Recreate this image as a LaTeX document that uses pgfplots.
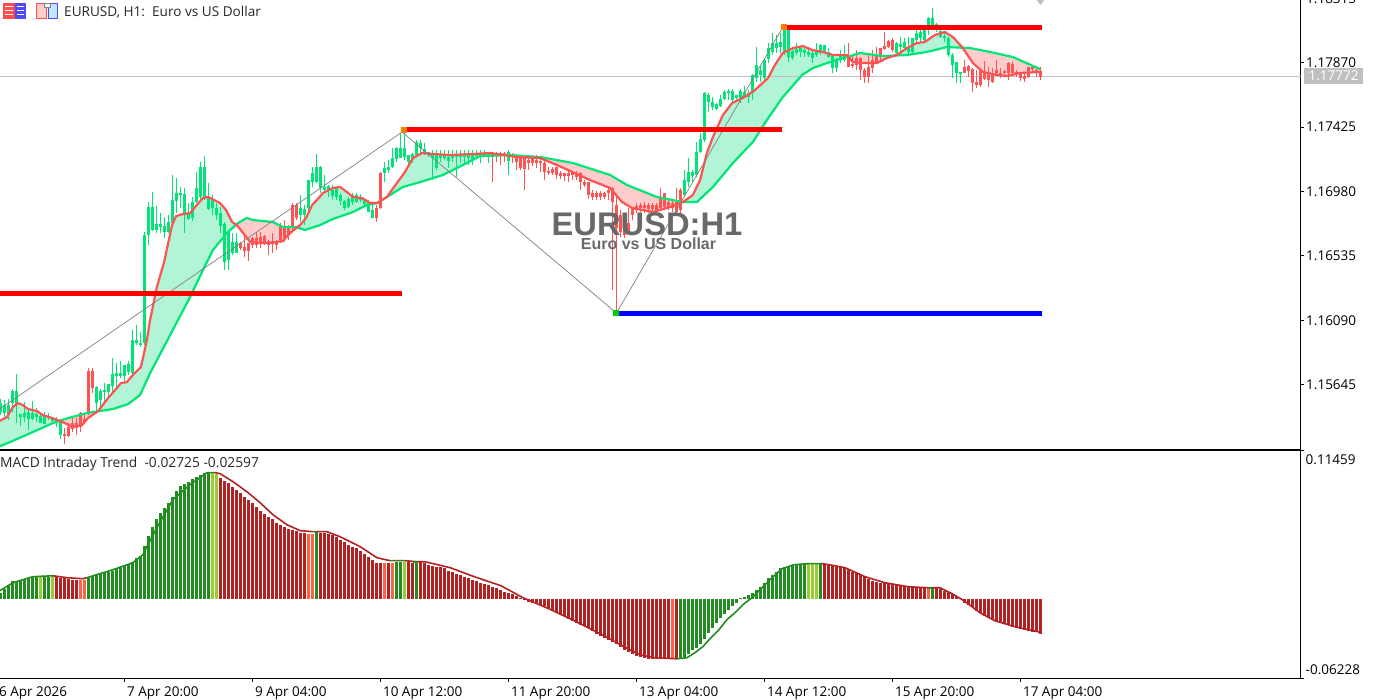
\documentclass[border=0pt]{standalone}
\usepackage{fontspec}
\setmainfont{Open Sans}
\newfontfamily\wm{Liberation Sans}
\usepackage{pgfplots}
\usepackage{pgfplotstable}
\pgfplotsset{compat=1.18}
\usepgfplotslibrary{fillbetween}
\definecolor{cgreen}{HTML}{00E676}
\definecolor{cred}{HTML}{FF5252}
\definecolor{mint}{HTML}{B2F5D6}
\definecolor{blush}{HTML}{FFCCCC}
\definecolor{hgreen}{HTML}{228B22}
\definecolor{hyg}{HTML}{9ACD32}
\definecolor{hred}{HTML}{B22222}
\definecolor{htom}{HTML}{FF6347}
\definecolor{plabel}{HTML}{C0C0C0}
\definecolor{wmk}{HTML}{696969}
% candles: bar, high, body top, body bottom, low
\pgfplotstableread{
i h t b l
0 1.15546 1.15518 1.15456 1.15435
1 1.15539 1.15504 1.15449 1.15415
2 1.15546 1.15504 1.15435 1.15401
3 1.15615 1.15601 1.15518 1.15456
4 1.15718 1.15601 1.15504 1.15380
5 1.15442 1.15442 1.15421 1.15360
6 1.15525 1.15449 1.15421 1.15387
7 1.15484 1.15456 1.15408 1.15332
8 1.15532 1.15449 1.15408 1.15401
9 1.15484 1.15442 1.15421 1.15387
10 1.15449 1.15428 1.15380 1.15380
11 1.15456 1.15435 1.15373 1.15373
12 1.15449 1.15428 1.15415 1.15401
13 1.15421 1.15415 1.15394 1.15373
14 1.15421 1.15408 1.15380 1.15353
15 1.15408 1.15387 1.15297 1.15270
24 1.15636 1.15629 1.15518 1.15456
25 1.15615 1.15601 1.15539 1.15477
26 1.15656 1.15608 1.15594 1.15525
27 1.15649 1.15649 1.15594 1.15553
28 1.15829 1.15718 1.15636 1.15594
29 1.15795 1.15725 1.15704 1.15622
30 1.15808 1.15725 1.15704 1.15691
31 1.15781 1.15781 1.15704 1.15656
32 1.15808 1.15788 1.15732 1.15712
33 1.16023 1.15954 1.15725 1.15704
34 1.16057 1.15954 1.15933 1.15919
35 1.16009 1.15933 1.15919 1.15905
36 1.16700 1.16679 1.15933 1.15919
37 1.16907 1.16873 1.16679 1.16610
38 1.16976 1.16873 1.16714 1.16707
39 1.16879 1.16755 1.16714 1.16693
40 1.16831 1.16755 1.16734 1.16693
41 1.16803 1.16741 1.16700 1.16659
42 1.16817 1.16769 1.16700 1.16693
43 1.17094 1.16921 1.16762 1.16762
44 1.17073 1.16969 1.16914 1.16831
45 1.17011 1.16969 1.16956 1.16866
46 1.17004 1.16963 1.16817 1.16693
47 1.16900 1.16831 1.16790 1.16783
48 1.16942 1.16907 1.16797 1.16776
49 1.17114 1.17004 1.16907 1.16900
50 1.17184 1.17149 1.16942 1.16907
51 1.17225 1.17149 1.16942 1.16921
52 1.17038 1.16942 1.16859 1.16852
53 1.16956 1.16921 1.16866 1.16817
54 1.16900 1.16866 1.16817 1.16783
55 1.16873 1.16831 1.16741 1.16693
56 1.16769 1.16755 1.16492 1.16437
57 1.16714 1.16700 1.16506 1.16437
58 1.16693 1.16631 1.16555 1.16541
59 1.16693 1.16631 1.16555 1.16555
75 1.16956 1.16866 1.16817 1.16769
76 1.16887 1.16859 1.16817 1.16748
77 1.17059 1.17059 1.16866 1.16838
78 1.17149 1.17108 1.17045 1.17011
79 1.17239 1.17149 1.17045 1.17038
80 1.17156 1.17149 1.17004 1.16969
81 1.17094 1.17011 1.16990 1.16969
82 1.17025 1.17018 1.16983 1.16942
83 1.17025 1.16990 1.16949 1.16921
84 1.17004 1.17004 1.16942 1.16921
85 1.16969 1.16956 1.16914 1.16887
86 1.16921 1.16914 1.16866 1.16852
87 1.16942 1.16928 1.16873 1.16866
88 1.16969 1.16956 1.16907 1.16887
89 1.16969 1.16956 1.16907 1.16900
90 1.16963 1.16942 1.16921 1.16907
91 1.16935 1.16921 1.16894 1.16873
92 1.16921 1.16900 1.16838 1.16838
93 1.16907 1.16852 1.16797 1.16797
96 1.17184 1.17142 1.17108 1.17045
97 1.17197 1.17149 1.17128 1.17108
98 1.17280 1.17211 1.17149 1.17142
99 1.17287 1.17280 1.17204 1.17184
100 1.17384 1.17280 1.17211 1.17211
101 1.17391 1.17280 1.17218 1.17197
102 1.17232 1.17232 1.17184 1.17149
103 1.17246 1.17239 1.17197 1.17177
104 1.17336 1.17322 1.17232 1.17218
105 1.17336 1.17315 1.17280 1.17246
106 1.17315 1.17273 1.17246 1.17232
107 1.17253 1.17253 1.17232 1.17218
108 1.17266 1.17232 1.17211 1.17059
109 1.17266 1.17232 1.17142 1.17128
110 1.17266 1.17232 1.17211 1.17184
111 1.17266 1.17232 1.17211 1.17197
112 1.17266 1.17218 1.17190 1.17142
113 1.17266 1.17232 1.17211 1.17184
114 1.17266 1.17232 1.17218 1.17080
115 1.17266 1.17239 1.17218 1.17177
116 1.17266 1.17232 1.17218 1.17177
117 1.17266 1.17232 1.17211 1.17163
118 1.17266 1.17232 1.17197 1.17163
119 1.17266 1.17246 1.17225 1.17211
120 1.17266 1.17246 1.17232 1.17177
121 1.17266 1.17246 1.17232 1.17218
122 1.17253 1.17239 1.17225 1.17177
127 1.17266 1.17253 1.17190 1.17094
171 1.17128 1.17059 1.16956 1.16942
172 1.17211 1.17114 1.17045 1.17011
173 1.17128 1.17114 1.17087 1.17038
174 1.17322 1.17253 1.17094 1.17080
175 1.17384 1.17343 1.17253 1.17246
176 1.17667 1.17660 1.17336 1.17322
177 1.17660 1.17646 1.17598 1.17529
178 1.17633 1.17598 1.17564 1.17543
179 1.17591 1.17584 1.17550 1.17543
180 1.17646 1.17619 1.17570 1.17564
181 1.17681 1.17667 1.17619 1.17612
182 1.17688 1.17674 1.17660 1.17612
183 1.17688 1.17674 1.17612 1.17591
184 1.17646 1.17646 1.17626 1.17612
185 1.17688 1.17674 1.17626 1.17591
186 1.17709 1.17667 1.17633 1.17626
187 1.17681 1.17660 1.17633 1.17591
188 1.17792 1.17785 1.17660 1.17612
189 1.17978 1.17854 1.17764 1.17736
190 1.17854 1.17819 1.17785 1.17736
191 1.17902 1.17888 1.17764 1.17750
192 1.18006 1.17971 1.17895 1.17868
193 1.18075 1.18006 1.17944 1.17923
194 1.18061 1.18006 1.17971 1.17937
195 1.18075 1.18013 1.17978 1.17937
196 1.18109 1.18096 1.17937 1.17923
197 1.18116 1.18096 1.17909 1.17875
198 1.17971 1.17951 1.17902 1.17888
199 1.18006 1.17964 1.17937 1.17923
200 1.17978 1.17971 1.17944 1.17909
201 1.17971 1.17958 1.17937 1.17909
202 1.17971 1.17944 1.17923 1.17909
203 1.17958 1.17937 1.17902 1.17868
204 1.18006 1.17958 1.17923 1.17909
205 1.17999 1.17992 1.17937 1.17923
206 1.17992 1.17992 1.17937 1.17937
207 1.17971 1.17944 1.17909 1.17902
208 1.17923 1.17916 1.17833 1.17799
209 1.17902 1.17895 1.17833 1.17806
210 1.17958 1.17923 1.17888 1.17868
211 1.17992 1.17923 1.17888 1.17875
224 1.18013 1.18006 1.17937 1.17923
225 1.18047 1.17999 1.17978 1.17937
226 1.18040 1.18013 1.17971 1.17971
227 1.18047 1.17971 1.17944 1.17923
228 1.18040 1.18040 1.17944 1.17923
229 1.18109 1.18075 1.18027 1.18006
230 1.18109 1.18082 1.18040 1.18013
231 1.18109 1.18096 1.18027 1.18013
232 1.18186 1.18179 1.18130 1.18061
233 1.18248 1.18179 1.18130 1.18096
234 1.18144 1.18137 1.18109 1.18082
235 1.18109 1.18089 1.18047 1.18040
236 1.18075 1.18054 1.18040 1.18013
237 1.18047 1.18040 1.17923 1.17909
238 1.17937 1.17923 1.17854 1.17764
239 1.17875 1.17875 1.17799 1.17729
240 1.17806 1.17806 1.17792 1.17729
}\bull
\pgfplotstableread{
i h t b l
16 1.15346 1.15304 1.15290 1.15235
17 1.15380 1.15353 1.15290 1.15284
18 1.15415 1.15380 1.15339 1.15318
19 1.15415 1.15380 1.15346 1.15297
20 1.15456 1.15449 1.15353 1.15318
21 1.15449 1.15408 1.15380 1.15380
22 1.15760 1.15739 1.15442 1.15435
23 1.15760 1.15739 1.15622 1.15587
60 1.16631 1.16624 1.16589 1.16575
61 1.16679 1.16596 1.16568 1.16527
62 1.16624 1.16624 1.16568 1.16499
63 1.16665 1.16659 1.16610 1.16589
64 1.16700 1.16659 1.16610 1.16589
65 1.16700 1.16665 1.16617 1.16589
66 1.16679 1.16672 1.16617 1.16610
67 1.16645 1.16638 1.16610 1.16541
68 1.16693 1.16638 1.16617 1.16555
69 1.16645 1.16638 1.16610 1.16575
70 1.16762 1.16734 1.16645 1.16624
71 1.16783 1.16741 1.16659 1.16631
72 1.16748 1.16728 1.16679 1.16645
73 1.16900 1.16887 1.16734 1.16714
74 1.16900 1.16887 1.16797 1.16783
94 1.16887 1.16866 1.16797 1.16769
95 1.17114 1.17108 1.16866 1.16859
123 1.17253 1.17239 1.17218 1.17045
124 1.17253 1.17239 1.17225 1.17184
125 1.17253 1.17246 1.17232 1.17163
126 1.17253 1.17246 1.17232 1.17184
128 1.17246 1.17239 1.17218 1.17177
129 1.17232 1.17218 1.17184 1.17128
130 1.17232 1.17211 1.17142 1.17128
131 1.17232 1.17211 1.17135 1.16990
132 1.17232 1.17197 1.17177 1.17128
133 1.17232 1.17204 1.17177 1.17156
134 1.17232 1.17197 1.17177 1.17142
135 1.17218 1.17190 1.17177 1.17114
136 1.17197 1.17177 1.17114 1.17059
137 1.17149 1.17122 1.17108 1.17094
138 1.17149 1.17135 1.17108 1.17094
139 1.17149 1.17149 1.17094 1.17066
140 1.17122 1.17108 1.17087 1.17066
141 1.17108 1.17108 1.17087 1.17052
142 1.17135 1.17108 1.17087 1.17045
143 1.17122 1.17108 1.17094 1.17059
144 1.17122 1.17108 1.17080 1.17059
145 1.17114 1.17108 1.17045 1.16990
146 1.17059 1.17045 1.17025 1.17011
147 1.17045 1.17045 1.16956 1.16928
148 1.16990 1.16969 1.16942 1.16921
149 1.16983 1.16969 1.16942 1.16921
150 1.16983 1.16969 1.16942 1.16921
151 1.16976 1.16969 1.16942 1.16928
152 1.17011 1.16990 1.16969 1.16921
153 1.17011 1.17004 1.16907 1.16299
154 1.16942 1.16887 1.16728 1.16140
155 1.16852 1.16817 1.16700 1.16665
156 1.16831 1.16769 1.16679 1.16659
157 1.16866 1.16762 1.16700 1.16693
158 1.16873 1.16873 1.16817 1.16783
159 1.16900 1.16879 1.16852 1.16831
160 1.16900 1.16887 1.16866 1.16838
161 1.16907 1.16887 1.16866 1.16831
162 1.16900 1.16887 1.16859 1.16831
163 1.16900 1.16887 1.16859 1.16831
164 1.16900 1.16887 1.16852 1.16831
165 1.17004 1.16942 1.16866 1.16852
166 1.16969 1.16969 1.16873 1.16852
167 1.16928 1.16907 1.16873 1.16852
168 1.16921 1.16900 1.16866 1.16838
169 1.17004 1.16907 1.16838 1.16817
170 1.17004 1.16990 1.16852 1.16831
212 1.18006 1.17902 1.17840 1.17840
213 1.17923 1.17861 1.17847 1.17833
214 1.17958 1.17902 1.17854 1.17819
215 1.17909 1.17902 1.17819 1.17750
216 1.17833 1.17819 1.17771 1.17729
217 1.17923 1.17840 1.17771 1.17729
218 1.17958 1.17888 1.17833 1.17799
219 1.17978 1.17916 1.17868 1.17868
220 1.17971 1.17971 1.17909 1.17888
221 1.18082 1.17985 1.17964 1.17958
222 1.18027 1.18020 1.17978 1.17971
223 1.18040 1.18027 1.17958 1.17944
241 1.17888 1.17840 1.17799 1.17799
242 1.17854 1.17847 1.17812 1.17771
243 1.17833 1.17826 1.17729 1.17667
244 1.17819 1.17736 1.17716 1.17695
245 1.17819 1.17819 1.17716 1.17702
246 1.17882 1.17799 1.17757 1.17750
247 1.17840 1.17792 1.17750 1.17702
248 1.17833 1.17799 1.17736 1.17729
249 1.17888 1.17819 1.17799 1.17785
250 1.17833 1.17799 1.17785 1.17764
251 1.17819 1.17812 1.17799 1.17771
252 1.17875 1.17868 1.17799 1.17750
253 1.17875 1.17861 1.17799 1.17785
254 1.17819 1.17806 1.17792 1.17771
255 1.17806 1.17806 1.17764 1.17743
256 1.17799 1.17778 1.17757 1.17736
257 1.17840 1.17840 1.17771 1.17764
258 1.17854 1.17840 1.17826 1.17806
259 1.17833 1.17819 1.17806 1.17771
260 1.17840 1.17812 1.17771 1.17750
}\bear
\pgfplotstableread{
x y
-1.3 1.15380
1.6 1.15421
3.1 1.15491
4.4 1.15518
5.6 1.15504
6.9 1.15477
9.1 1.15463
10.6 1.15435
12.9 1.15415
14.9 1.15394
16.6 1.15373
17.9 1.15353
20.4 1.15366
21.9 1.15415
24.4 1.15463
26.9 1.15553
29.1 1.15622
30.1 1.15656
31.6 1.15663
33.1 1.15712
35.1 1.15767
35.9 1.15864
36.6 1.15954
37.4 1.16092
39.1 1.16320
40.9 1.16492
42.9 1.16748
43.9 1.16810
45.6 1.16824
47.4 1.16831
49.1 1.16887
50.6 1.16935
51.9 1.16942
53.4 1.16921
54.9 1.16900
56.4 1.16852
57.9 1.16769
59.1 1.16748
62.4 1.16631
64.4 1.16624
67.4 1.16624
70.6 1.16638
72.4 1.16693
74.9 1.16748
76.4 1.16797
77.9 1.16887
79.1 1.16921
80.6 1.16969
83.1 1.17004
84.9 1.17011
86.6 1.16976
88.1 1.16942
90.4 1.16935
92.4 1.16900
94.1 1.16900
96.6 1.16942
99.1 1.17038
101.1 1.17114
103.1 1.17211
105.4 1.17246
108.1 1.17239
112.4 1.17232
118.1 1.17239
122.4 1.17246
129.1 1.17218
134.9 1.17211
139.1 1.17163
144.1 1.17101
147.4 1.17059
152.4 1.17004
155.4 1.16907
157.9 1.16866
163.1 1.16838
167.4 1.16873
170.6 1.16907
173.1 1.16956
174.9 1.17059
176.6 1.17246
178.1 1.17356
180.6 1.17508
182.9 1.17591
186.1 1.17633
188.6 1.17681
191.9 1.17764
193.6 1.17854
195.6 1.17937
198.1 1.17971
200.6 1.17985
202.9 1.17958
205.6 1.17944
208.1 1.17923
211.6 1.17923
213.1 1.17875
215.6 1.17868
219.1 1.17868
221.6 1.17902
224.1 1.17923
226.6 1.17971
229.1 1.18006
231.1 1.18013
233.6 1.18061
236.1 1.18082
238.1 1.18047
240.4 1.17978
243.1 1.17868
245.6 1.17806
249.1 1.17785
251.6 1.17778
254.9 1.17799
259.9 1.17806
}\fastma
\pgfplotstableread{
x y
-1.3 1.15207
2.4 1.15249
8.1 1.15318
13.1 1.15380
16.1 1.15408
21.6 1.15449
28.1 1.15477
31.9 1.15511
34.9 1.15574
37.4 1.15725
42.4 1.15988
47.4 1.16251
50.6 1.16437
53.1 1.16575
56.6 1.16693
59.4 1.16762
61.6 1.16797
63.1 1.16783
68.1 1.16769
70.6 1.16734
74.1 1.16734
76.1 1.16714
79.9 1.16748
83.1 1.16790
88.1 1.16838
91.6 1.16887
94.1 1.16900
96.6 1.16942
100.6 1.17011
104.9 1.17045
110.6 1.17094
116.6 1.17177
119.9 1.17225
127.4 1.17232
134.9 1.17218
143.1 1.17177
152.4 1.17094
156.6 1.17025
164.1 1.16942
170.6 1.16907
174.1 1.16907
178.1 1.17011
183.1 1.17177
188.1 1.17322
191.6 1.17474
195.6 1.17633
200.4 1.17785
203.1 1.17833
207.4 1.17875
211.6 1.17909
214.9 1.17937
220.6 1.17916
226.6 1.17923
231.6 1.17944
236.6 1.17978
242.4 1.17971
247.4 1.17944
253.1 1.17909
259.9 1.17826
}\slowma
\pgfplotsset{bars/.style={ycomb,line width=3.2pt,line cap=butt,no markers},
 candlew/.style={draw=none,no markers,forget plot,error bars/.cd,y dir=plus,y explicit,error mark=none,error bar style={#1,line width=1.2pt,line cap=butt}},
 candleb/.style={draw=none,no markers,forget plot,error bars/.cd,y dir=plus,y explicit,error mark=none,error bar style={#1,line width=3.4pt,line cap=butt}}}
\begin{document}
\begin{tikzpicture}[x=1pt,y=1pt]
\begin{axis}[name=price,anchor=south west,at={(-5pt,250.3pt)},scale only axis,width=1305.7pt,height=452.7pt,
 xmin=-1.375,xmax=325.05,ymin=1.15196,ymax=1.18324,
 line width=1pt,axis line style={line width=1pt},
 xtick=\empty,ytick pos=right,yticklabel pos=right,tick align=outside,
 ytick={1.15645,1.1609,1.16535,1.1698,1.17425,1.1787,1.18315},
 yticklabels={1.15645,1.16090,1.16535,1.16980,1.17425,1.17870,1.18315},
 major tick length=3pt,tick style={black,line width=1pt},
 yticklabel style={font=\fontsize{13.5}{13.5}\selectfont,anchor=west,xshift=-1pt,text=black}]
\addplot[plabel,line width=1pt,forget plot] coordinates {(-1.375,1.17772)(325.05,1.17772)};
\addplot[name path=fastp,draw=none,forget plot] table[x=x,y=y] {\fastma};
\addplot[name path=slowp,draw=none,forget plot] table[x=x,y=y] {\slowma};
\addplot[mint] fill between[of=fastp and slowp,soft clip={domain=-2:15.4}];
\addplot[blush] fill between[of=fastp and slowp,soft clip={domain=15.4:23.6}];
\addplot[mint] fill between[of=fastp and slowp,soft clip={domain=23.6:59.1}];
\addplot[blush] fill between[of=fastp and slowp,soft clip={domain=59.1:74.9}];
\addplot[mint] fill between[of=fastp and slowp,soft clip={domain=74.9:119.9}];
\addplot[blush] fill between[of=fastp and slowp,soft clip={domain=119.9:170.6}];
\addplot[mint] fill between[of=fastp and slowp,soft clip={domain=170.6:212.4}];
\addplot[blush] fill between[of=fastp and slowp,soft clip={domain=212.4:223.6}];
\addplot[mint] fill between[of=fastp and slowp,soft clip={domain=223.6:240.4}];
\addplot[blush] fill between[of=fastp and slowp,soft clip={domain=240.4:259.9}];
% wicks and bodies
\addplot[candlew=cgreen] table[x=i,y=l,y error plus expr=\thisrow{h}-\thisrow{l}] {\bull};
\addplot[candleb=cgreen] table[x=i,y=b,y error plus expr=\thisrow{t}-\thisrow{b}] {\bull};
\addplot[candlew=cred] table[x=i,y=l,y error plus expr=\thisrow{h}-\thisrow{l}] {\bear};
\addplot[candleb=cred] table[x=i,y=b,y error plus expr=\thisrow{t}-\thisrow{b}] {\bear};
% moving averages
\addplot[cgreen,line width=2.2pt,forget plot] table[x=x,y=y] {\slowma};
\addplot[cred,line width=2.2pt,forget plot] table[x=x,y=y] {\fastma};
% zigzag
\addplot[gray,line width=0.7pt,forget plot] coordinates {(-0.6,1.15470)(100.4,1.17391)(154,1.16140)(195.6,1.18116)};
% levels
\addplot[red,line width=5pt,forget plot] coordinates {(-2,1.16275)(100.4,1.16275)};
\addplot[red,line width=5pt,forget plot] coordinates {(100.4,1.17405)(195.5,1.17405)};
\addplot[red,line width=5pt,forget plot] coordinates {(195.5,1.18116)(260.5,1.18116)};
\addplot[blue,line width=5pt,forget plot] coordinates {(154,1.16140)(260.5,1.16140)};
\addplot[orange,only marks,mark=square*,mark size=2.5pt,mark options={solid,fill=orange,draw=orange},forget plot] coordinates {(100.8,1.17405)(195.9,1.18116)};
\addplot[green!80!black,only marks,mark=square*,mark size=2.5pt,mark options={solid,fill=green!80!black,draw=green!80!black},forget plot] coordinates {(154,1.16140)};
\addplot[plabel,only marks,mark=diamond*,mark size=4pt,mark options={solid,fill=plabel,draw=plabel},forget plot] coordinates {(260,1.18303)};
\end{axis}
\begin{axis}[name=macd,anchor=south west,at={(-5pt,21pt)},scale only axis,width=1305.7pt,height=228pt,
 xmin=-1.375,xmax=325.05,ymin=-0.06228,ymax=0.11459,
 axis line style={line width=1pt},
 xtick={-1,31,63,95,127,159,191,223,255},
 xticklabels={6 Apr 2026,7 Apr 20:00,9 Apr 04:00,10 Apr 12:00,11 Apr 20:00,13 Apr 04:00,14 Apr 12:00,15 Apr 20:00,17 Apr 04:00},
 xtick pos=bottom,ytick pos=right,yticklabel pos=right,tick align=outside,
 ytick={-0.06228,0.11459},yticklabels={},
 major tick length=3pt,tick style={black,line width=1pt},
 xticklabel style={font=\fontsize{13.5}{13.5}\selectfont,anchor=north west,xshift=-1pt,yshift=-1pt,text=black}]
\addplot[bars,hgreen,forget plot] table {
0 .0047
1 .0078
2 .0109
3 .0140
4 .0140
5 .0147
6 .0155
7 .0163
8 .0171
9 .0171
11 .0171
12 .0171
22 .0163
23 .0178
24 .0186
25 .0190
26 .0198
27 .0206
28 .0217
29 .0241
30 .0248
31 .0264
32 .0272
33 .0287
34 .0318
35 .0334
36 .0411
37 .0489
38 .0559
39 .0621
40 .0667
41 .0706
42 .0745
43 .0792
44 .0838
45 .0877
46 .0892
47 .0908
48 .0931
49 .0947
50 .0962
51 .0978
52 .0978
79 .0520
99 .0287
100 .0287
104 .0279
170 -.0458
171 -.0450
172 -.0427
173 -.0396
174 -.0380
175 -.0349
176 -.0310
177 -.0264
178 -.0225
179 -.0186
180 -.0147
181 -.0116
182 -.0085
183 -.0054
184 -.0031
185 .0004
186 .0016
187 .0031
188 .0047
189 .0070
190 .0093
191 .0124
192 .0163
193 .0186
194 .0210
195 .0241
196 .0248
197 .0256
198 .0264
199 .0272
200 .0272
201 .0272
205 .0272
233 .0085
};
\addplot[bars,hyg,forget plot] table {
10 .0171
13 .0178
53 .0978
54 .0970
101 .0287
202 .0272
203 .0272
204 .0272
};
\addplot[bars,htom,forget plot] table {
20 .0147
21 .0147
77 .0504
78 .0504
96 .0279
98 .0279
168 -.0466
232 .0085
};
\addplot[bars,hred,forget plot] table {
14 .0171
15 .0163
16 .0163
17 .0155
18 .0147
19 .0147
55 .0939
56 .0916
57 .0900
58 .0869
59 .0846
60 .0823
61 .0792
62 .0768
63 .0745
64 .0714
65 .0683
66 .0660
67 .0636
68 .0621
69 .0590
70 .0574
71 .0559
72 .0543
73 .0535
74 .0528
75 .0512
76 .0512
80 .0512
81 .0512
82 .0504
83 .0497
84 .0481
85 .0458
86 .0442
87 .0419
88 .0404
89 .0396
90 .0372
91 .0349
92 .0326
93 .0303
94 .0279
95 .0279
97 .0279
102 .0287
103 .0279
105 .0287
106 .0279
107 .0264
108 .0256
109 .0248
110 .0248
111 .0241
112 .0217
113 .0210
114 .0194
115 .0186
116 .0171
117 .0163
118 .0147
119 .0140
120 .0124
121 .0116
122 .0109
123 .0093
124 .0085
125 .0070
126 .0054
127 .0047
128 .0039
129 .0023
130 .0008
131 -.0004
132 -.0023
133 -.0031
134 -.0039
135 -.0047
136 -.0054
137 -.0070
138 -.0085
139 -.0101
140 -.0116
141 -.0132
142 -.0155
143 -.0171
144 -.0186
145 -.0202
146 -.0210
147 -.0225
148 -.0248
149 -.0272
150 -.0287
151 -.0303
152 -.0318
153 -.0334
154 -.0349
155 -.0372
156 -.0396
157 -.0411
158 -.0427
159 -.0442
160 -.0450
161 -.0458
162 -.0466
163 -.0466
164 -.0466
165 -.0466
166 -.0466
167 -.0466
169 -.0466
206 .0272
207 .0264
208 .0256
209 .0248
210 .0248
211 .0241
212 .0233
213 .0210
214 .0202
215 .0186
216 .0171
217 .0155
218 .0140
219 .0132
220 .0124
221 .0124
222 .0116
223 .0116
224 .0109
225 .0101
226 .0101
227 .0093
228 .0093
229 .0093
230 .0085
231 .0085
234 .0085
235 .0078
236 .0062
237 .0054
238 .0039
239 .0023
240 .0008
241 -.0031
242 -.0047
243 -.0062
244 -.0093
245 -.0109
246 -.0132
247 -.0147
248 -.0163
249 -.0178
250 -.0186
251 -.0194
252 -.0202
253 -.0217
254 -.0225
255 -.0233
256 -.0241
257 -.0248
258 -.0256
259 -.0256
260 -.0272
};
% signal line
\addplot[hred,line width=1.6pt,forget plot] table {
13.1 .0178
16.6 .0163
20.6 .0155
21.6 .0163
};
\addplot[hred,line width=1.6pt,forget plot] table {
53.6 .0978
54.9 .0970
58.1 .0908
61.6 .0830
64.9 .0745
68.1 .0652
71.6 .0574
74.9 .0528
78.1 .0520
81.6 .0520
84.9 .0481
89.9 .0404
94.1 .0318
97.4 .0295
101.1 .0295
104.1 .0287
106.1 .0287
112.4 .0241
118.4 .0171
125.1 .0101
130.6 .0008
137.1 -.0078
143.9 -.0178
149.9 -.0272
155.9 -.0372
159.9 -.0435
163.6 -.0458
169.1 -.0466
};
\addplot[hred,line width=1.6pt,forget plot] table {
205.4 .0272
207.1 .0264
211.1 .0241
216.1 .0171
221.1 .0124
226.9 .0093
231.9 .0085
234.9 .0085
237.9 .0039
240.9 -.0016
244.9 -.0109
248.6 -.0171
253.6 -.0217
259.9 -.0260
};
\addplot[hgreen,line width=1.6pt,forget plot] table {
-0.6 .0054
3.1 .0124
8.1 .0171
13.1 .0178
};
\addplot[hgreen,line width=1.6pt,forget plot] table {
21.6 .0163
28.1 .0225
33.1 .0279
35.6 .0341
36.6 .0404
39.1 .0551
43.1 .0768
47.4 .0885
51.6 .0978
53.6 .0978
};
\addplot[hgreen,line width=1.6pt,forget plot] table {
78.1 .0520
79.1 .0520
};
\addplot[hgreen,line width=1.6pt,forget plot] table {
97.4 .0295
101.1 .0295
};
\addplot[hgreen,line width=1.6pt,forget plot] table {
103.1 .0287
104.1 .0287
};
\addplot[hgreen,line width=1.6pt,forget plot] table {
169.1 -.0466
171.6 -.0458
173.6 -.0419
175.6 -.0372
177.6 -.0303
179.6 -.0241
181.6 -.0163
183.6 -.0109
185.9 -.0039
187.9 .0008
190.4 .0085
192.9 .0163
195.4 .0233
198.4 .0264
201.9 .0272
205.4 .0272
};
\addplot[hgreen,line width=1.6pt,forget plot] table {
231.9 .0085
232.9 .0085
};
\end{axis}
% watermark, header, axis end labels and price label
\node[font=\wm\bfseries\fontsize{32.7}{32.7}\selectfont,text=wmk,inner sep=0pt] at (647,476) {EURUSD:H1};
\node[font=\wm\bfseries\fontsize{16}{16}\selectfont,text=wmk,inner sep=0pt] at (648.5,456) {Euro vs US Dollar};
\node[font=\fontsize{13.6}{13.6}\selectfont,anchor=west,inner sep=0pt,text=black!85] at (64,688) {EURUSD, H1:\ \ Euro vs US Dollar};
\node[font=\fontsize{13.8}{13.8}\selectfont,anchor=west,inner sep=0pt,text=black!85] at (0,236) {MACD Intraday Trend\ \ -0.02725 -0.02597};
\node[font=\fontsize{13.5}{13.5}\selectfont,anchor=west,inner sep=0pt] at (1305.5,240) {0.11459};
\node[font=\fontsize{13.5}{13.5}\selectfont,anchor=west,inner sep=0pt] at (1305.5,30) {-0.06228};
\node[fill=plabel,text=white,font=\fontsize{13.5}{13.5}\selectfont,minimum width=59pt,minimum height=16pt,inner sep=0pt] at (1333.5,624) {1.17772};
% toolbar icons
\fill[red!70!white] (3,681) rectangle (15,697);
\fill[blue!70!white] (15,681) rectangle (26,697);
\foreach \yy in {685,689,693}{\fill[white] (5,\yy) rectangle (13,\yy+1.2);\fill[white] (17,\yy) rectangle (24,\yy+1.2);}
\fill[blush,draw=red!70!white] (36.5,681.5) rectangle (46,696.5);
\fill[cyan!25,draw=blue!70!white] (48,681.5) rectangle (57.5,696.5);
\fill[white,draw=gray] (44,693) rectangle (50,697);
\pgfresetboundingbox
\path[use as bounding box] (0,0) rectangle (1375,700);
\end{tikzpicture}
\end{document}
